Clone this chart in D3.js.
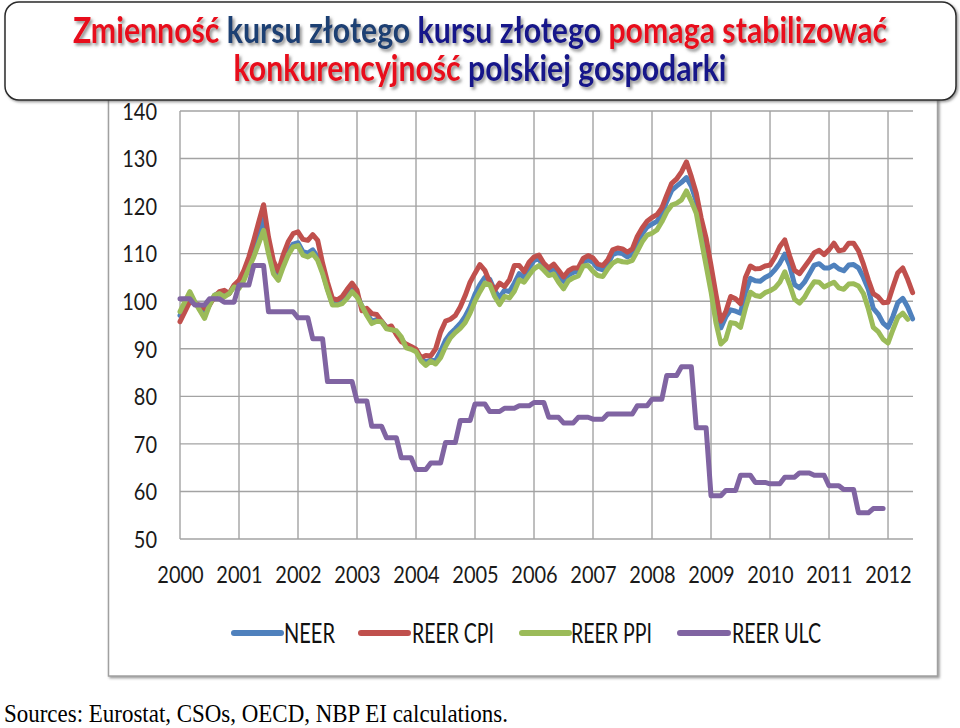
<!DOCTYPE html>
<html>
<head>
<meta charset="utf-8">
<script src="https://cdn.jsdelivr.net/npm/d3@7"></script>
<style>
  html, body { margin: 0; padding: 0; background: #fff; }
  svg { display: block; }
</style>
</head>
<body>
<svg id="chart" width="960" height="728"></svg>
<script>
// ---------------- DATA (monthly from 2000-01; ULC quarterly from 2000Q1) ----------------
const years = ["2000","2001","2002","2003","2004","2005","2006","2007","2008","2009","2010","2011","2012"];
const yTicks = [50, 60, 70, 80, 90, 100, 110, 120, 130, 140];

const neer = [
  97.0, 99.0, 101.2, 99.8, 98.6, 97.3, 99.3, 101.2, 101.8, 101.5, 101.6, 103.2,
  103.4, 105.2, 107.8, 110.6, 113.8, 117.2, 111.5, 106.5, 104.8, 107.8, 110.5, 112.0,
  112.3, 110.4, 110.1, 110.8, 109.3, 106.2, 102.6, 99.6, 99.4, 99.8, 101.2, 102.6,
  101.4, 98.9, 97.4, 95.8, 96.1, 95.8, 94.5, 94.3, 93.5, 92.2, 90.5, 90.1,
  89.6, 87.9, 87.2, 87.6, 87.5, 89.5, 91.8, 93.2, 94.2, 95.3, 96.8, 98.8,
  101.5, 103.5, 105.0, 104.6, 102.2, 100.8, 102.3, 102.0, 103.8, 105.8, 105.0, 107.0,
  108.6, 108.9, 107.2, 106.2, 107.0, 105.6, 104.2, 105.5, 106.1, 106.2, 108.2, 108.7,
  108.2, 106.9, 106.6, 107.8, 109.8, 110.2, 110.0, 109.3, 110.0, 112.4, 114.2, 115.6,
  116.2, 116.8, 118.3, 121.0, 123.3, 124.2, 125.0, 126.0, 124.2, 121.0, 116.0, 111.5,
  106.5, 100.0, 94.4, 96.7, 98.2, 97.9, 97.5, 101.8, 104.8, 104.3, 104.2, 105.0,
  105.5, 106.6, 108.0, 109.9, 107.5, 103.5, 102.8, 104.0, 105.8, 107.6, 107.9, 107.0,
  107.0, 107.6, 106.8, 106.4, 107.6, 107.7, 107.0, 105.0, 102.5, 98.5, 97.3, 95.4,
  94.5, 96.8, 99.7, 100.6, 98.8, 96.3
];
const reerCpi = [
  95.7, 97.8, 99.9, 99.5, 99.2, 98.5, 99.2, 100.9, 102.0, 102.3, 101.6, 103.4,
  104.4, 106.5, 109.3, 112.8, 116.6, 120.3, 113.5, 108.5, 106.3, 109.8, 112.5, 114.2,
  114.6, 113.0, 112.8, 114.0, 112.8, 108.0, 104.0, 100.6, 100.3, 101.0, 102.5, 103.8,
  102.3, 98.0, 98.5, 97.4, 97.2, 95.8, 94.4, 94.8, 93.0, 91.5, 91.0, 90.5,
  89.9, 88.1, 88.6, 88.5, 90.0, 93.5, 95.8, 96.2, 97.0, 98.8, 101.2, 104.0,
  105.9, 107.7, 106.5, 104.0, 102.3, 103.8, 103.1, 104.5, 107.5, 107.5, 106.2, 108.2,
  109.3, 109.7, 108.0, 107.0, 107.8, 106.5, 105.1, 106.4, 107.0, 107.0, 109.0, 109.6,
  109.1, 107.8, 107.5, 108.7, 110.8, 111.2, 111.0, 110.3, 111.0, 113.6, 115.4, 116.8,
  117.6, 118.2, 119.6, 122.3, 124.8, 125.7, 127.2, 129.3, 126.2, 122.7, 117.5, 113.3,
  107.5, 101.5, 95.8, 97.8, 101.0, 100.5, 99.5, 105.0, 107.4, 106.8, 106.9, 107.4,
  107.6, 109.3, 111.5, 112.9, 109.5, 106.5, 105.8, 107.2, 108.6, 110.2, 110.7, 109.8,
  110.8, 112.2, 110.6, 110.8, 112.2, 112.2, 110.6, 107.8, 104.5, 101.6, 100.9, 99.7,
  99.8, 103.0, 106.0, 107.0, 104.6, 101.8
];
const reerPpi = [
  97.8, 99.9, 102.0, 99.9, 98.1, 96.4, 99.2, 101.3, 101.6, 100.9, 101.6, 103.0,
  102.7, 104.4, 106.9, 109.3, 112.1, 114.9, 110.0, 105.8, 104.4, 107.2, 109.7, 111.4,
  111.7, 109.7, 109.3, 110.0, 108.6, 105.8, 102.3, 99.2, 99.2, 99.5, 100.6, 102.0,
  100.9, 99.0, 97.0, 95.3, 95.8, 95.7, 94.2, 94.0, 93.8, 92.5, 90.2, 89.9,
  89.4, 87.5, 86.5, 87.4, 86.8, 88.1, 90.5, 92.3, 93.4, 94.3, 95.5, 97.5,
  100.0, 102.0, 103.8, 103.5, 101.0, 99.3, 101.0, 100.7, 102.1, 104.5, 104.0, 105.5,
  106.8, 107.5, 106.5, 105.4, 105.7, 104.0, 102.6, 104.3, 104.9, 105.3, 107.4, 107.5,
  106.3, 105.4, 105.2, 106.8, 108.0, 108.6, 108.3, 108.2, 108.6, 110.5, 112.5, 113.9,
  114.3, 115.0, 116.7, 118.8, 120.2, 120.6, 121.3, 123.2, 121.0, 118.5, 113.0, 107.5,
  102.0, 95.5, 91.0, 92.0, 95.5, 95.3, 94.5, 98.5, 101.9, 101.2, 101.0, 101.8,
  102.2, 102.8, 104.0, 106.2, 103.5, 100.4, 99.6, 100.8, 102.6, 104.1, 104.0, 103.0,
  103.5, 104.0, 102.8, 102.5, 103.6, 103.7, 103.2, 101.6, 98.4, 94.5, 93.6, 92.0,
  91.2, 94.0, 96.6, 97.5, 96.2
];
const reerUlcQuarterly = [
  100.5, 99.2, 100.5, 99.8,
  103.4, 107.5, 97.8, 97.8,
  96.5, 92.1, 83.1, 83.1,
  79.0, 73.7, 71.3, 67.1,
  64.6, 66.0, 70.3, 74.9,
  78.4, 76.8, 77.5, 78.0,
  78.7, 75.6, 74.4, 75.6,
  75.2, 76.3, 76.3, 78.0,
  79.4, 84.4, 86.2, 73.4,
  59.1, 60.2, 63.4, 61.9,
  61.6, 63.0, 63.9, 63.4,
  61.2, 60.4, 55.5, 56.4
];

const seriesNames = ["NEER", "REER CPI", "REER PPI", "REER ULC"];
const seriesColors = ["#4F81BD", "#C0504D", "#9BBB59", "#8064A2"];

// ---------------- LAYOUT ----------------
const svg = d3.select("#chart");
const plot = { left: 180, right: 913, top: 111, bottom: 539 };

const x = d3.scaleLinear().domain([0, 149]).range([180, 912.6]);
const y = d3.scaleLinear().domain([50, 140]).range([plot.bottom, plot.top]);

const defs = svg.append("defs");
const f = defs.append("filter").attr("id", "tshadow")
  .attr("x", "-5%").attr("y", "-20%").attr("width", "110%").attr("height", "160%");
f.append("feDropShadow").attr("dx", 2).attr("dy", 2.5).attr("stdDeviation", 1.4)
  .attr("flood-color", "#6d6d6d").attr("flood-opacity", 0.75);
const fb = defs.append("filter").attr("id", "bshadow")
  .attr("x", "-2%").attr("y", "-5%").attr("width", "104%").attr("height", "115%");
fb.append("feDropShadow").attr("dx", 1.5).attr("dy", 1.5).attr("stdDeviation", 1)
  .attr("flood-color", "#555").attr("flood-opacity", 0.6);

// helper: draw text taller (condensed look) by fixing its natural width at a base size
function condense(sel, baseSize, bigSize) {
  sel.each(function() {
    const t = d3.select(this);
    t.attr("font-size", baseSize);
    const w = this.getComputedTextLength();
    t.attr("font-size", bigSize);
    if (w > 0) t.attr("textLength", w).attr("lengthAdjust", "spacingAndGlyphs");
  });
}

// chart frame
svg.append("rect")
  .attr("x", 108.5).attr("y", 92).attr("width", 829).attr("height", 584)
  .attr("fill", "#fff").attr("stroke", "#a0a0a0").attr("stroke-width", 1.5)
  .attr("filter", "url(#bshadow)");

// gridlines
const grid = svg.append("g");
grid.selectAll("line.h").data(yTicks).join("line")
  .attr("x1", plot.left).attr("x2", plot.right)
  .attr("y1", d => y(d)).attr("y2", d => y(d))
  .attr("stroke", "#a3a3a3").attr("stroke-width", 1.4);
grid.selectAll("line.v").data(years).join("line")
  .attr("x1", (d, i) => x(i * 12)).attr("x2", (d, i) => x(i * 12))
  .attr("y1", plot.top).attr("y2", plot.bottom)
  .attr("stroke", "#a3a3a3").attr("stroke-width", 1.4);

// y axis labels
const yAxis = d3.axisLeft(y).tickValues(yTicks).tickSize(0).tickPadding(0);
const gy = svg.append("g").attr("transform", "translate(157,0)").call(yAxis);
gy.select(".domain").remove();
gy.selectAll("text").attr("font-family", "Lato, 'Open Sans', sans-serif")
  .attr("fill", "#1a1a1a").attr("dy", "0.36em");
condense(gy.selectAll("text"), 20, 23);

// x axis labels
const xAxis = d3.axisBottom(x).tickValues(years.map((d, i) => i * 12))
  .tickFormat((d, i) => years[i]).tickSize(0).tickPadding(0);
const gx = svg.append("g").attr("transform", "translate(0,567)").call(xAxis);
gx.select(".domain").remove();
gx.selectAll("text").attr("font-family", "Lato, 'Open Sans', sans-serif")
  .attr("fill", "#1a1a1a").attr("dy", "0.71em");
condense(gx.selectAll("text"), 20, 23);

// lines
const line = d3.line().x(d => x(d[0])).y(d => y(d[1])).curve(d3.curveLinear);
const ulcMonthly = [];
reerUlcQuarterly.forEach((v, q) => { for (let m = 0; m < 3; m++) ulcMonthly.push([q * 3 + m, v]); });

const allSeries = [
  neer.map((v, i) => [i, v]),
  reerCpi.map((v, i) => [i, v]),
  reerPpi.map((v, i) => [i, v]),
  ulcMonthly
];
svg.append("g").selectAll("path").data(allSeries).join("path")
  .attr("d", line)
  .attr("fill", "none")
  .attr("stroke", (d, i) => seriesColors[i])
  .attr("stroke-width", 5)
  .attr("stroke-linejoin", "round")
  .attr("stroke-linecap", "round");

// legend
const legendPos = [
  { x1: 234, x2: 281, tx: 284, tw: 51 },
  { x1: 361, x2: 408, tx: 412, tw: 82 },
  { x1: 522, x2: 569, tx: 571, tw: 81 },
  { x1: 680, x2: 728, tx: 732, tw: 89 }
];
const lg = svg.append("g");
seriesNames.forEach((name, i) => {
  const p = legendPos[i];
  lg.append("line").attr("x1", p.x1).attr("x2", p.x2).attr("y1", 633).attr("y2", 633)
    .attr("stroke", seriesColors[i]).attr("stroke-width", 6).attr("stroke-linecap", "round");
  lg.append("text").attr("x", p.tx).attr("y", 643)
    .attr("font-family", "Lato, 'Open Sans', sans-serif").attr("font-size", 27)
    .attr("fill", "#111")
    .attr("textLength", p.tw).attr("lengthAdjust", "spacingAndGlyphs")
    .text(name);
});

// sources
svg.append("text").attr("x", 4).attr("y", 722)
  .attr("font-family", "'Liberation Serif', 'Times New Roman', serif")
  .attr("font-size", 25).attr("fill", "#000")
  .attr("textLength", 504).attr("lengthAdjust", "spacingAndGlyphs")
  .text("Sources: Eurostat, CSOs, OECD, NBP EI calculations.");

// title box
svg.append("rect").attr("x", 5).attr("y", 2).attr("width", 951).attr("height", 98)
  .attr("rx", 14).attr("ry", 14)
  .attr("fill", "#fff").attr("stroke", "#2a2a2a").attr("stroke-width", 1.5)
  .attr("filter", "url(#bshadow)");

const red = "#E8101C", slate = "#1F3F73", navy = "#14148A";
const titleLines = [
  { y: 43, parts: [["Zmienność ", red], ["kursu złotego ", slate], ["kursu złotego ", navy], ["pomaga stabilizować", red]], width: 814 },
  { y: 81, parts: [["konkurencyjność ", red], ["polskiej gospodarki", navy]], width: 493 }
];
const tg = svg.append("g").attr("filter", "url(#tshadow)");
titleLines.forEach(tl => {
  // taller glyphs at the same overall width (Calibri-like proportions)
  const g = tg.append("g").attr("transform", `translate(480,${tl.y}) scale(1,1.17)`);
  const t = g.append("text").attr("x", 0).attr("y", 0)
    .attr("text-anchor", "middle")
    .attr("font-family", "Lato, 'Open Sans', sans-serif")
    .attr("font-weight", "bold").attr("font-size", 29)
    .attr("xml:space", "preserve");
  tl.parts.forEach(p => t.append("tspan").attr("fill", p[1]).text(p[0]));
  const w = t.node().getComputedTextLength();
  if (w > 0) t.attr("font-size", 29 * tl.width / w);
});
</script>
</body>
</html>
